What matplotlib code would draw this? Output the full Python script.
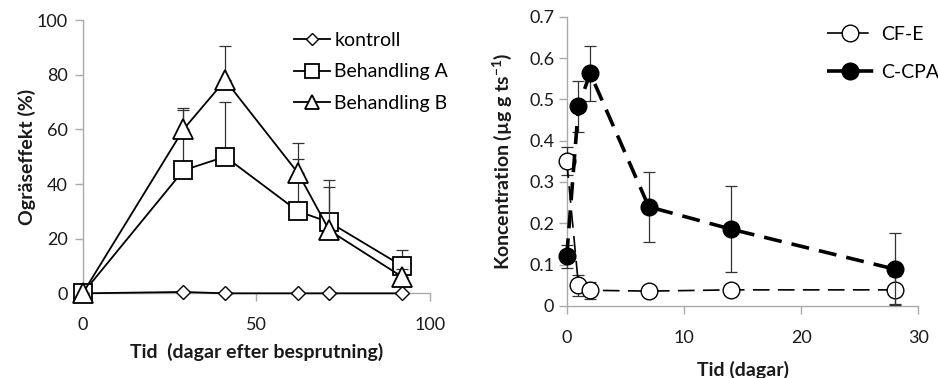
import numpy as np
import matplotlib.pyplot as plt

plt.rcParams['font.family'] = ['Lato', 'DejaVu Sans']
plt.rcParams['mathtext.fontset'] = 'custom'
plt.rcParams['mathtext.rm'] = 'Lato'
plt.rcParams['mathtext.bf'] = 'Lato:bold'

# weed-control effect (%) after spraying
dagar = [0, 29, 41, 62, 71, 92]
kontroll = [0, 0.5, 0, 0, 0, 0]
beh_a = [0, 45, 50, 30, 26, 10]
beh_a_err = [0, 22, 20, 19, 13, 6]
beh_b = [0, 60, 78, 44, 23, 6]
beh_b_err = [0, 7.7, 12.5, 11, 18.5, 3]

# residue concentrations
tid = [0, 1, 2, 7, 14, 28]
cfe = [0.35, 0.05, 0.038, 0.036, 0.039, 0.039]
cfe_err = [0.034, 0.026, 0.021, 0.005, 0.005, 0.033]
ccpa = [0.12, 0.483, 0.563, 0.240, 0.186, 0.089]
ccpa_err = [0.027, 0.062, 0.066, 0.085, 0.104, 0.087]

SPINE = "#aaaaaa"
INK = "#1a1a1a"
FS_TICK = 13
FS_LAB = 14

fig = plt.figure(figsize=(9.38, 3.78), dpi=100, facecolor="white")
ax1 = fig.add_axes([0.0882, 0.224, 0.3703, 0.723])
ax2 = fig.add_axes([0.6042, 0.1905, 0.3749, 0.7654])


def style(ax):
    for s in ("top", "right"):
        ax.spines[s].set_visible(False)
    for s in ("left", "bottom"):
        ax.spines[s].set_color(SPINE)
        ax.spines[s].set_linewidth(1.0)
    ax.tick_params(direction="out", length=6, width=1.0, color=SPINE,
                   labelsize=FS_TICK, labelcolor=INK, pad=5)


eb = dict(fmt="none", ecolor="#333333", elinewidth=0.9, capsize=4,
          capthick=0.9, clip_on=False)

# ── left: Ogräseffekt ─────────────────────────────────────────────
style(ax1)
ax1.plot(dagar, kontroll, color="black", lw=1.3, marker="D", ms=7.5,
         mfc="white", mec="black", mew=1.0, label="kontroll",
         clip_on=False, zorder=3)
ax1.errorbar(dagar, beh_a, yerr=[np.zeros(len(beh_a)), beh_a_err],
             zorder=3.5, **eb)
ax1.plot(dagar, beh_a, color="black", lw=1.3, marker="s", ms=12.5,
         mfc="white", mec="black", mew=1.3, label="Behandling A",
         clip_on=False, zorder=4)
ax1.errorbar(dagar, beh_b, yerr=[np.zeros(len(beh_b)), beh_b_err],
             zorder=4.5, **eb)
ax1.plot(dagar, beh_b, color="black", lw=1.3, marker="^", ms=14,
         mfc="white", mec="black", mew=1.3, label="Behandling B",
         clip_on=False, zorder=5)
ax1.set_xlim(0, 100)
ax1.set_ylim(0, 100)
ax1.set_xticks([0, 50, 100])
ax1.set_yticks([0, 20, 40, 60, 80, 100])
ax1.tick_params(axis="x", pad=11)
ax1.set_xlabel("Tid  (dagar efter besprutning)", fontsize=FS_LAB,
               weight="bold", color=INK, labelpad=7)
ax1.set_ylabel("Ogräseffekt (%)", fontsize=FS_LAB, weight="bold",
               color=INK, labelpad=0)
ax1.legend(loc="upper right", bbox_to_anchor=(1.075, 0.985), frameon=False,
           fontsize=FS_LAB, handlelength=1.85, handletextpad=0.25,
           labelspacing=0.75, borderaxespad=0, markerscale=0.75)

# ── right: Koncentration ──────────────────────────────────────────
style(ax2)
ax2.errorbar(tid, cfe, yerr=cfe_err, zorder=3.5, **eb)
ax2.plot(tid, cfe, color="black", lw=1.2, ls=(0, (10, 5)), marker="o",
         ms=12, mfc="white", mec="black", mew=1.0, label="CF-E",
         clip_on=False, zorder=4)
ax2.errorbar(tid, ccpa, yerr=ccpa_err, zorder=4.5, **eb)
ax2.plot(tid, ccpa, color="black", lw=2.6, ls=(0, (5, 2.8)), marker="o",
         ms=12, mfc="black", mec="black", label="C-CPA", clip_on=False,
         zorder=5)
ax2.set_xlim(0, 30)
ax2.set_ylim(0, 0.7)
ax2.set_xticks([0, 10, 20, 30])
ax2.set_yticks(np.arange(0, 0.71, 0.1))
ax2.set_yticklabels(["0"] + [f"{v:.1f}" for v in np.arange(0.1, 0.71, 0.1)])
ax2.tick_params(axis="x", pad=11)
ax2.tick_params(axis="y", pad=3)
ax2.set_xlabel("Tid (dagar)", fontsize=FS_LAB, weight="bold", color=INK,
               labelpad=11)
ax2.set_ylabel(r"Koncentration (µg g ts$^{\mathbf{-1}}$)", fontsize=FS_LAB,
               weight="bold", color=INK, labelpad=11)
ax2.legend(loc="upper right", bbox_to_anchor=(1.08, 0.995), frameon=False,
           fontsize=FS_LAB, handlelength=2.4, handletextpad=0.35,
           labelspacing=1.1, borderaxespad=0)

fig.savefig("out.png", dpi=100, facecolor="white")
